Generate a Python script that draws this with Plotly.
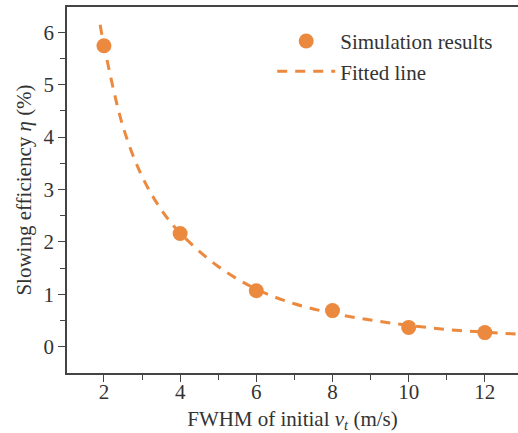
import plotly.graph_objects as go

# Simulation results
sim_x = [2, 4, 6, 8, 10, 12]
sim_y = [5.74, 2.16, 1.07, 0.69, 0.37, 0.27]

# Fitted line
fit_x = [1.9, 2.0, 2.5, 3.0, 3.5, 4.0, 5.0, 6.0, 7.0, 8.0, 9.0, 10.0, 11.0, 12.0, 12.9]
fit_y = [6.14, 5.75, 4.2, 3.25, 2.62, 2.17, 1.53, 1.10, 0.82, 0.64, 0.51, 0.41, 0.33, 0.28, 0.24]

x_ticks = [2, 4, 6, 8, 10, 12]
y_ticks = [0, 1, 2, 3, 4, 5, 6]

orange = "#EB8A3F"
axis_col = "#444444"
text_col = "#333333"
font_fam = "Liberation Serif"
fs = 21

fig = go.Figure()
fig.add_trace(go.Scatter(
    x=sim_x, y=sim_y, mode="markers", name="Simulation results",
    marker=dict(size=15, color=orange, line=dict(width=0)),
))
fig.add_trace(go.Scatter(
    x=fit_x, y=fit_y, mode="lines", name="Fitted line",
    line=dict(color=orange, width=3, dash="10px,8px", shape="spline"),
))

fig.update_layout(
    width=518, height=433,
    margin=dict(l=67, r=0, t=7, b=60),
    paper_bgcolor="white", plot_bgcolor="white",
    font=dict(family=font_fam, size=fs, color=text_col),
    showlegend=True,
    legend=dict(x=0.455, y=0.962, xanchor="left", yanchor="top", itemwidth=58,
                bgcolor="rgba(0,0,0,0)", font=dict(size=fs, family=font_fam, color=text_col),
                tracegroupgap=0),
)
fig.update_xaxes(
    range=[1.03, 12.87], tickvals=x_ticks, ticktext=[str(v) for v in x_ticks],
    showgrid=False, zeroline=False, showline=True, linecolor=axis_col, linewidth=1.5,
    mirror=True, ticks="outside", ticklen=7, tickwidth=1.2, tickcolor=axis_col,
    minor=dict(tickvals=[3, 5, 7, 9, 11], ticks="outside", ticklen=5, tickwidth=1.2, tickcolor=axis_col),
    tickfont=dict(size=fs, family=font_fam, color=text_col),
    ticklabelstandoff=-8,
    title=dict(text="FWHM of initial <i>v</i><sub><i>t</i></sub> (m/s)", standoff=12,
               font=dict(size=fs, family=font_fam, color=text_col)),
)
fig.update_yaxes(
    range=[-0.5, 6.48], tickvals=y_ticks, ticktext=[str(v) for v in y_ticks],
    showgrid=False, zeroline=False, showline=True, linecolor=axis_col, linewidth=1.5,
    mirror=False, ticks="outside", ticklen=7, tickwidth=1.2, tickcolor=axis_col,
    minor=dict(tickvals=[0.5, 1.5, 2.5, 3.5, 4.5, 5.5], ticks="outside", ticklen=5, tickwidth=1.2, tickcolor=axis_col),
    tickfont=dict(size=fs, family=font_fam, color=text_col),
    title=dict(text="Slowing efficiency <i>η</i> (%)", standoff=6,
               font=dict(size=fs, family=font_fam, color=text_col)),
)

fig.write_html("out.html")
